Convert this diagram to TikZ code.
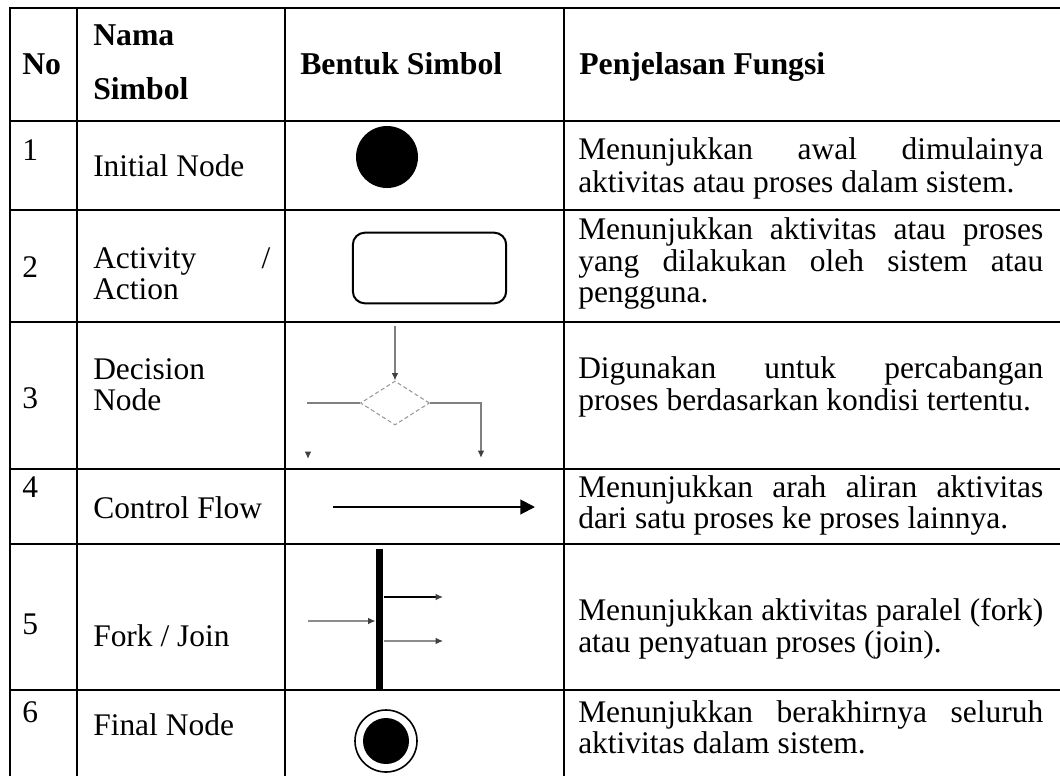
\documentclass[tikz,border=0pt]{standalone}
\usepackage{fontspec}
\setmainfont{Liberation Serif}
\usetikzlibrary{arrows.meta,shapes.geometric}
\newcommand{\jdesc}[1]{\makebox[348.75pt][s]{#1}}
\newcommand{\jname}[1]{\makebox[132.75pt][s]{#1}}
\begin{document}
\begin{tikzpicture}[x=0.75pt,y=-0.75pt,
  grid/.style={line width=2.2pt,black},
  txt/.style={inner sep=0pt,anchor=base west,font=\fontsize{23.6pt}{28pt}\selectfont},
  hdr/.style={txt,font=\fontsize{23.8pt}{28pt}\selectfont\bfseries},
  graylink/.style={draw=black!50,line width=1.1pt},
  smalltip/.style={-{Latex[length=5.5pt,width=5pt,color=black!75]}},
]
\useasboundingbox (0,0) rectangle (1060,776);
\fill[white] (0,0) rectangle (1060,776);
% grid
\foreach \yy in {8,121,210,322,469,544,690} {\draw[grid] (10,\yy) -- (1060,\yy);}
\foreach \xx in {10,77,285,564} {\draw[grid] (\xx,7) -- (\xx,776);}
% header
\node[hdr] (hno) at (22,74) {No};
\node[hdr] (hnama) at (93,45) {Nama};
\node[hdr] (hsimbol) at (93,99) {Simbol};
\node[hdr] (hbentuk) at (300,74) {Bentuk Simbol};
\node[hdr] (hpenj) at (579,74) {Penjelasan Fungsi};
% row 1
\node[txt] (n1) at (22,160) {1};
\node[txt] (nm1) at (93,176) {Initial Node};
\node[txt] (d1a) at (578,159) {\jdesc{Menunjukkan awal dimulainya}};
\node[txt] (d1b) at (578,192) {aktivitas atau proses dalam sistem.};
% row 2
\node[txt] (n2) at (22,277) {2};
\node[txt] (nm2a) at (93,268) {\jname{Activity /}};
\node[txt] (nm2b) at (93,299) {Action};
\node[txt] (d2a) at (578,239) {\jdesc{Menunjukkan aktivitas atau proses}};
\node[txt] (d2b) at (578,271) {\jdesc{yang dilakukan oleh sistem atau}};
\node[txt] (d2c) at (578,302) {pengguna.};
% row 3
\node[txt] (n3) at (22,408) {3};
\node[txt] (nm3a) at (93,379) {Decision};
\node[txt] (nm3b) at (93,410) {Node};
\node[txt] (d3a) at (578,378) {\jdesc{Digunakan untuk percabangan}};
\node[txt] (d3b) at (578,410) {proses berdasarkan kondisi tertentu.};
% row 4
\node[txt] (n4) at (22,497) {4};
\node[txt] (nm4) at (93,518) {Control Flow};
\node[txt] (d4a) at (578,497) {\jdesc{Menunjukkan arah aliran aktivitas}};
\node[txt] (d4b) at (578,528) {dari satu proses ke proses lainnya.};
% row 5
\node[txt] (n5) at (22,634) {5};
\node[txt] (nm5) at (93,646) {Fork / Join};
\node[txt] (d5a) at (578,620) {\jdesc{Menunjukkan aktivitas paralel (fork)}};
\node[txt] (d5b) at (578,652) {atau penyatuan proses (join).};
% row 6
\node[txt] (n6) at (22,722) {6};
\node[txt] (nm6) at (93,735) {Final Node};
\node[txt] (d6a) at (578,722) {\jdesc{Menunjukkan berakhirnya seluruh}};
\node[txt] (d6b) at (578,753) {aktivitas dalam sistem.};
% symbol 1: initial node
\node[circle,fill=black,inner sep=0pt,minimum size=46.5pt] (init) at (387,157) {};
% symbol 2: activity
\node[draw,line width=1.5pt,rounded corners=9pt,inner sep=0pt,minimum width=115pt,minimum height=53pt] (act) at (429.5,268) {};
% symbol 3: decision
\node[diamond,draw=black!40,densely dashed,line width=0.8pt,inner sep=0pt,minimum width=51.75pt,minimum height=33pt] (dec) at (395,403) {};
\coordinate (dtop) at (395,326);
\coordinate (dleft) at (307,403);
\coordinate (dright) at (481,458);
\coordinate (stubtop) at (308,452);
\coordinate (stubend) at (308,459);
\draw[graylink,smalltip] (dtop) -- (dec.north);
\draw[graylink] (dleft) -- (dec.west);
\draw[graylink,smalltip] (dec.east) -| (dright);
\draw[graylink,smalltip] (stubtop) -- (stubend);
% symbol 4: control flow
\coordinate (cfs) at (333,507);
\coordinate (cfe) at (535,507);
\draw[line width=1.5pt,-{Triangle[length=11pt,width=11pt]}] (cfs) -- (cfe);
% symbol 5: fork / join
\node[rectangle,fill=black,inner sep=0pt,minimum width=5.6pt,minimum height=105pt] (bar) at (379.5,619) {};
\coordinate (fin1) at (308,621);
\coordinate (fo1) at (443,597);
\coordinate (fo2) at (443,641);
\draw[draw=black!45,line width=0.9pt,smalltip] (fin1) -- (fin1 -| bar.west);
\draw[line width=0.9pt,smalltip] (fo1 -| bar.east) -- (fo1);
\draw[draw=black!45,line width=0.9pt,smalltip] (fo2 -| bar.east) -- (fo2);
% symbol 6: final node
\node[circle,draw,line width=1.2pt,inner sep=0pt,minimum size=46.5pt] (final) at (386,741) {};
\node[circle,fill=black,inner sep=0pt,minimum size=34.5pt] (finalin) at (final.center) {};
\end{tikzpicture}
\end{document}
